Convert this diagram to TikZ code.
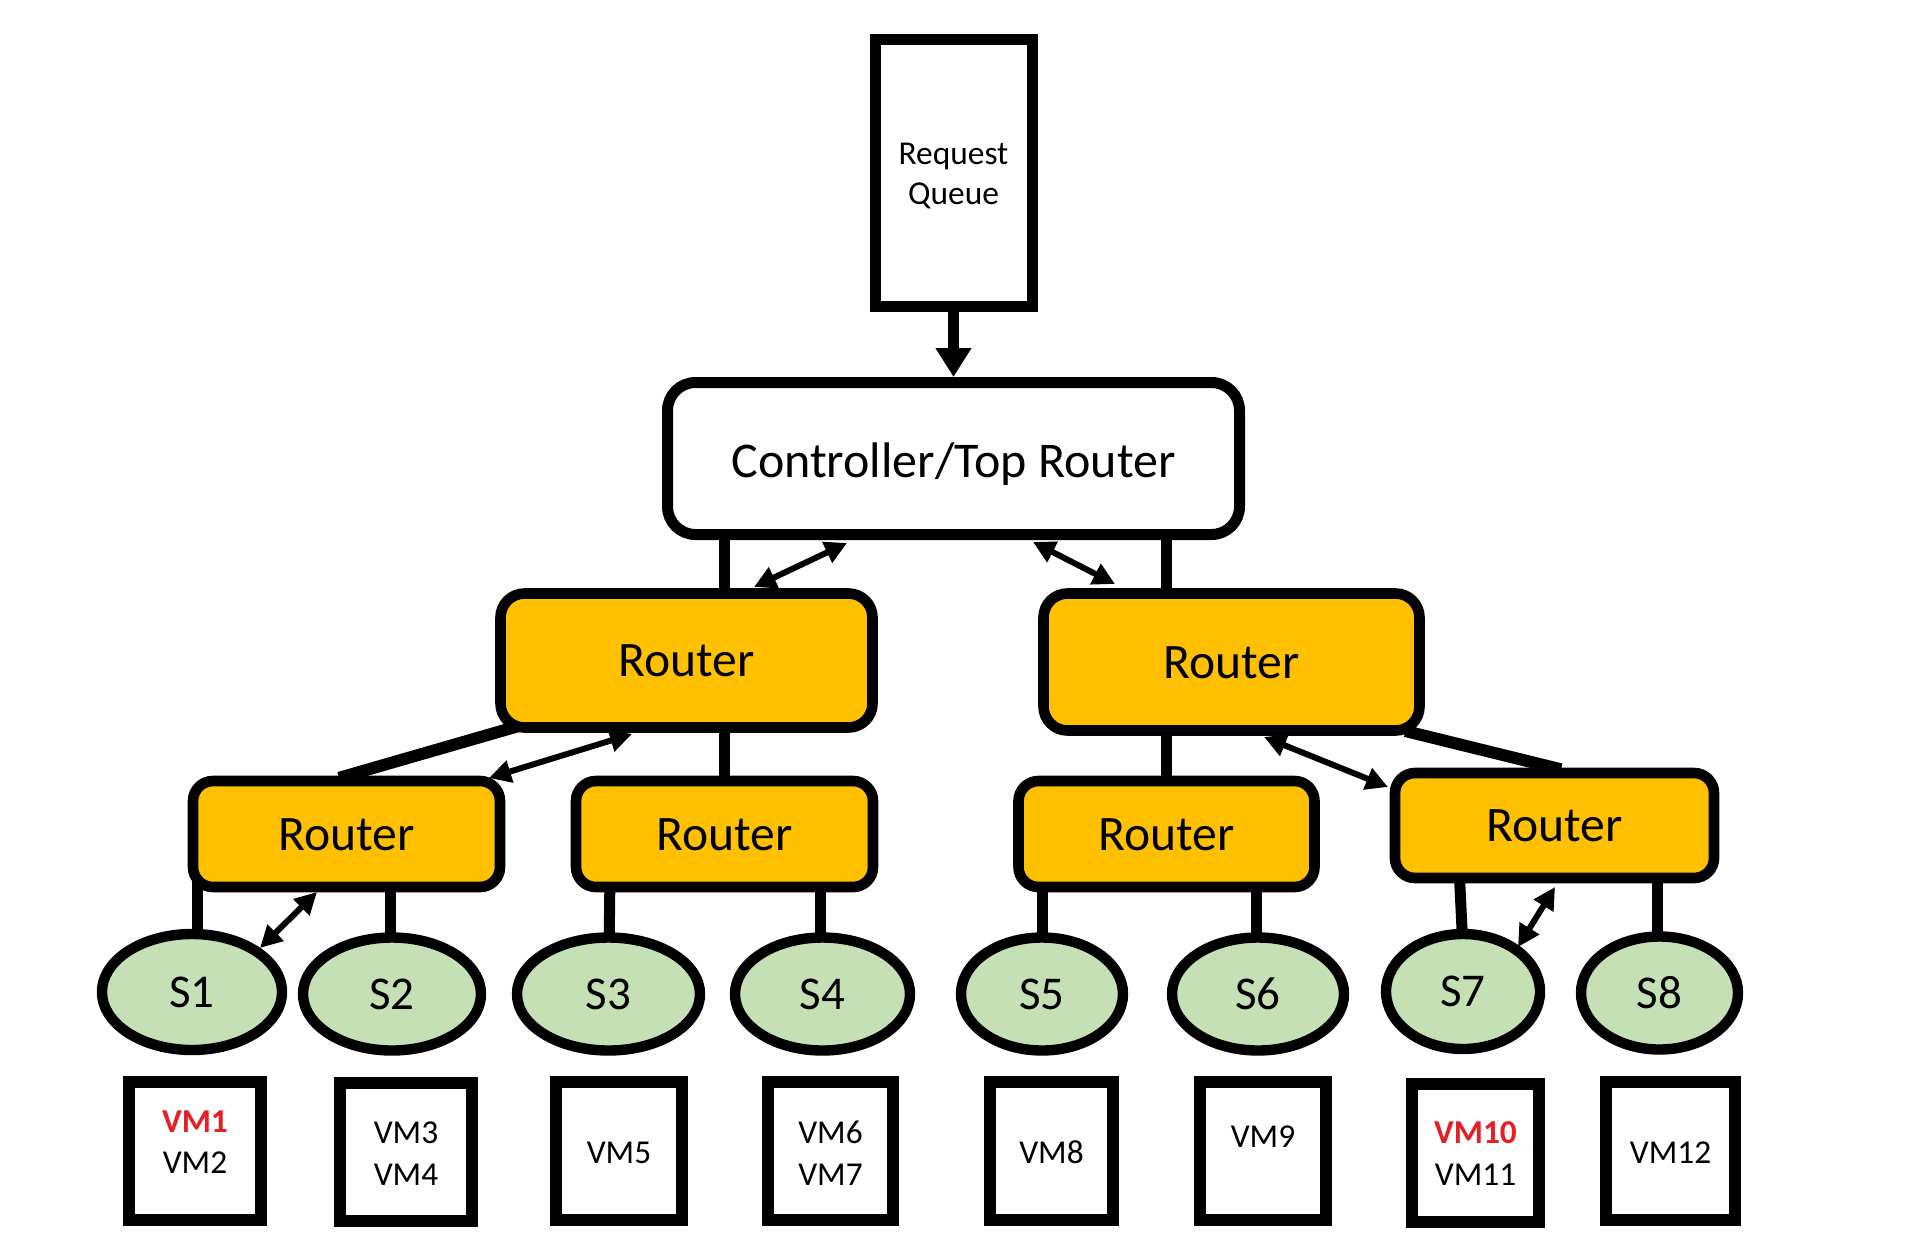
\documentclass[tikz,border=0pt]{standalone}
\usepackage{fontspec}
\setmainfont{Carlito}
\usetikzlibrary{arrows.meta,calc,backgrounds,shapes.geometric}
\definecolor{routerfill}{RGB}{255,192,0}
\definecolor{serverfill}{RGB}{197,224,180}
\definecolor{vmred}{RGB}{232,30,38}
\begin{document}
\begin{tikzpicture}[x=0.5pt,y=-0.5pt,
  qbox/.style={draw=black,line width=5.5pt,fill=white,inner sep=0pt},
  ctrlbox/.style={draw=black,line width=5.5pt,fill=white,rounded corners=14pt,inner sep=0pt,font=\fontsize{25}{30}\selectfont,text height=19pt,text depth=0pt},
  router/.style={draw=black,line width=5.3pt,fill=routerfill,inner sep=0pt,font=\fontsize{24.8}{30}\selectfont,text height=16pt,text depth=0pt},
  toprouter/.style={router,rounded corners=12pt},
  lowrouter/.style={router,rounded corners=10pt},
  server/.style={ellipse,draw=black,line width=5.2pt,fill=serverfill,inner sep=0pt,font=\fontsize{23.5}{28}\selectfont,text height=15.1pt,text depth=0pt,minimum height=56.5pt},
  vmbox/.style={draw=black,line width=6pt,fill=white,inner sep=0pt,minimum height=69pt},
  smalltext/.style={font=\fontsize{16.7}{20}\selectfont,anchor=base,inner sep=0pt},
  conn/.style={draw=black,line width=5.5pt},
  qarrow/.style={draw=black,line width=5.5pt,arrows={-Triangle[length=14.5pt,width=17pt]}},
  dbl/.style={draw=black,line width=3pt,>={Triangle[length=11pt,width=11pt]},<->},
]
\useasboundingbox (0,0) rectangle (1905,1258);

% top
\node[qbox,minimum width=78.5pt,minimum height=133.5pt] (queue) at (953.5,173) {};
\node[smalltext] (qtext1) at (953.5,164) {Request};
\node[smalltext] (qtext2) at (953.5,204) {Queue};
\node[ctrlbox,minimum width=286pt,minimum height=76pt] (ctrl) at (953.5,458.5) {Controller/Top Router};

% routers
\node[toprouter,minimum width=186pt,minimum height=67pt] (RA) at (686.5,660.5) {Router};
\node[toprouter,minimum width=188pt,minimum height=68.5pt] (RB) at (1231.5,662) {Router};
\node[lowrouter,minimum width=153.5pt,minimum height=53pt] (R1) at (346.5,834) {Router};
\node[lowrouter,minimum width=148.5pt,minimum height=53pt] (R2) at (724.5,834) {Router};
\node[lowrouter,minimum width=148pt,minimum height=53pt] (R3) at (1166.5,834) {Router};
\node[lowrouter,minimum width=159.5pt,minimum height=52.5pt] (R4) at (1554.5,825.5) {Router};

% servers
\node[server,minimum width=90pt,minimum height=58pt] (S1) at (192,992) {S1};
\node[server,minimum width=89pt] (S2) at (392,994) {S2};
\node[server,minimum width=91.5pt] (S3) at (608.5,994) {S3};
\node[server,minimum width=87.5pt] (S4) at (822.5,994) {S4};
\node[server,minimum width=81pt] (S5) at (1042,994) {S5};
\node[server,minimum width=86pt] (S6) at (1258,994) {S6};
\node[server,minimum width=77pt,minimum height=57.5pt] (S7) at (1463,991.5) {S7};
\node[server,minimum width=78.5pt] (S8) at (1659.5,993) {S8};

% VM boxes
\node[vmbox,minimum width=66pt] (V1) at (195,1151) {};
\node[vmbox,minimum width=66pt] (V2) at (406,1152) {};
\node[vmbox,minimum width=63pt] (V3) at (619,1151) {};
\node[vmbox,minimum width=62.5pt] (V4) at (830.5,1151) {};
\node[vmbox,minimum width=61.5pt] (V5) at (1051.5,1151) {};
\node[vmbox,minimum width=63pt] (V6) at (1263,1151) {};
\node[vmbox,minimum width=63.5pt] (V7) at (1475.5,1153) {};
\node[vmbox,minimum width=64.5pt] (V8) at (1670.5,1151) {};

\node[smalltext,text=vmred] (vm1) at (195,1132) {\textbf{VM1}};
\node[smalltext] (vm2) at (195,1173) {VM2};
\node[smalltext] (vm3) at (406,1143) {VM3};
\node[smalltext] (vm4) at (406,1185) {VM4};
\node[smalltext] (vm5) at (619,1163) {VM5};
\node[smalltext] (vm6) at (830.5,1143) {VM6};
\node[smalltext] (vm7) at (830.5,1185) {VM7};
\node[smalltext] (vm8) at (1051.5,1163) {VM8};
\node[smalltext] (vm9) at (1263,1147) {VM9};
\node[smalltext,text=vmred] (vm10) at (1475.5,1143) {\textbf{VM10}};
\node[smalltext] (vm11) at (1475.5,1185) {VM11};
\node[smalltext] (vm12) at (1670.5,1163) {VM12};

% connectors behind the nodes
\begin{pgfonlayer}{background}
\fill[white] (0,0) rectangle (1905,1258);
\draw[conn] (ctrl.center -| R2.center) -- (RA.center -| R2.center);
\draw[conn] (ctrl.center -| R3.center) -- (RB.center -| R3.center);
\draw[conn] (RA.center -| R2.center) -- (R2.center);
\draw[conn] (RB.center -| R3.center) -- (R3.center);
\draw[conn,line width=6pt] ($(R1.north)!1.15!(RA.south west)$) -- ($(RA.south west)!1.05!(R1.north)$);
\draw[conn,line width=6pt] ($(R4.north)!1.15!(RB.south east)$) -- ($(RB.south east)!1.05!(R4.north)$);
\draw[conn] ($(R1.center -| S1.center)+(5,0)$) -- ($(S1.center)+(5,0)$);
\draw[conn] ($(R1.center -| S2.center)+(-2,0)$) -- ($(S2.center)+(-2,0)$);
\draw[conn] ($(R2.center -| S3.center)+(2,0)$) -- (S3.center);
\draw[conn] ($(R2.center -| S4.center)+(-2,0)$) -- ($(S4.center)+(-2,0)$);
\draw[conn] (R3.center -| S5.center) -- (S5.center);
\draw[conn] ($(R3.center -| S6.center)+(-2,0)$) -- ($(S6.center)+(-2,0)$);
\draw[conn] ($(R4.center -| S7.center)+(-6,0)$) -- ($(S7.center)+(2,0)$);
\draw[conn] ($(R4.center -| S8.center)+(-2,0)$) -- ($(S8.center)+(-2,0)$);
\end{pgfonlayer}

% queue arrow
\draw[qarrow] (queue.south) -- (ctrl.north);

% double arrows
\coordinate (da1) at (754,587);   \coordinate (da2) at (847,543);
\coordinate (db1) at (1033,542);  \coordinate (db2) at (1115,584);
\coordinate (dc1) at (632,734);   \coordinate (dc2) at (489,778);
\coordinate (dd1) at (1264,737);  \coordinate (dd2) at (1388,787);
\coordinate (de1) at (317,892);   \coordinate (de2) at (260,948);
\coordinate (df1) at (1555,887);  \coordinate (df2) at (1518,947);
\draw[dbl] (da1) -- (da2);
\draw[dbl] (db1) -- (db2);
\draw[dbl] (dc1) -- (dc2);
\draw[dbl] (dd1) -- (dd2);
\draw[dbl] (de1) -- (de2);
\draw[dbl] (df1) -- (df2);
\end{tikzpicture}
\end{document}
